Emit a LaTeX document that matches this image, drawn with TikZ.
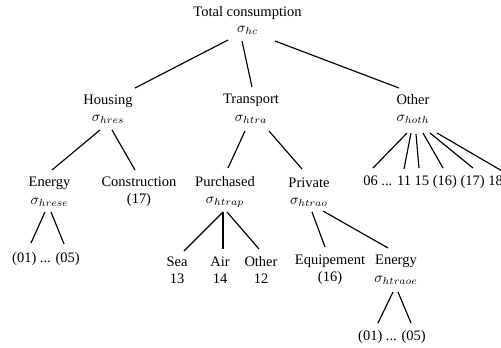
\documentclass[tikz,border=0pt]{standalone}
\usepackage{fontspec}
\setmainfont{Liberation Serif}
\begin{document}
\begin{tikzpicture}[x=0.69pt,y=-0.69pt,
  lbl/.style={align=center,inner sep=0pt,font=\fontsize{10}{12}\selectfont},
  edge/.style={line width=0.8pt}]
\useasboundingbox (0,0) rectangle (501,347);
% nodes
\node[lbl,font=\fontsize{10}{10.5}\selectfont] (tc) at (247.5,20.5) {Total consumption\\$\sigma_{hc}$};
\node[lbl] (ho) at (108,109) {Housing\\$\sigma_{hres}$};
\node[lbl] (tr) at (251,109) {Transport\\$\sigma_{htra}$};
\node[lbl] (ot) at (413,109) {Other\\$\sigma_{hoth}$};
\node[lbl] (en1) at (49.5,192) {Energy\\$\sigma_{hrese}$};
\node[lbl] (co) at (139,192) {Construction\\(17)};
\node[lbl] (pu) at (225,192) {Purchased\\$\sigma_{htrap}$};
\node[lbl] (pr) at (309,192) {Private\\$\sigma_{htrao}$};
\node[lbl,anchor=base west] (kd) at (363,185.5) {06 ... 11 15 (16) (17) 18};
\node[lbl] (l1) at (46,259) {(01) ... (05)};
\node[lbl] (sea) at (177,270) {Sea\\13};
\node[lbl] (air) at (220,270) {Air\\14};
\node[lbl] (oth2) at (261,270) {Other\\12};
\node[lbl] (eq) at (330,270) {Equipement\\(16)};
\node[lbl] (en2) at (396,270) {Energy\\$\sigma_{htraoe}$};
\node[lbl] (l2) at (392,337) {(01) ... (05)};
% edges
\draw[edge] ([shift={(-19.5,19.5)}]tc.center) -- ([shift={(27,-21)}]ho.center);
\draw[edge] ([shift={(-5.5,20.5)}]tc.center) -- ([shift={(1,-22)}]tr.center);
\draw[edge] ([shift={(27.5,20.5)}]tc.center) -- ([shift={(-14,-21)}]ot.center);
\draw[edge] ([shift={(-8,21)}]ho.center) -- ([shift={(2.5,-22)}]en1.center);
\draw[edge] ([shift={(4,21)}]ho.center) -- ([shift={(-4,-22)}]co.center);
\draw[edge] ([shift={(-6,22)}]tr.center) -- ([shift={(3,-24)}]pu.center);
\draw[edge] ([shift={(18,22)}]tr.center) -- ([shift={(-7,-23)}]pr.center);
\draw[edge] ([shift={(-6,24)}]ot.center) -- ([shift={(10,-17.5)}]kd.base west);
\draw[edge] ([shift={(-2,24)}]ot.center) -- ([shift={(41,-16.5)}]kd.base west);
\draw[edge] ([shift={(3,25)}]ot.center) -- ([shift={(56,-17.5)}]kd.base west);
\draw[edge] ([shift={(10,24)}]ot.center) -- ([shift={(80,-17.5)}]kd.base west);
\draw[edge] ([shift={(17,24)}]ot.center) -- ([shift={(110,-17.5)}]kd.base west);
\draw[edge] ([shift={(24,24)}]ot.center) -- ([shift={(140,-14)}]kd.base west);
\draw[edge] ([shift={(-4.5,20)}]en1.center) -- ([shift={(-15,-16)}]l1.center);
\draw[edge] ([shift={(1.5,20)}]en1.center) -- ([shift={(18,-15)}]l1.center);
\draw[edge] ([shift={(-2,20)}]pu.center) -- ([shift={(7,-19)}]sea.center);
\draw[edge] ([shift={(-2,20)}]pu.center) -- ([shift={(3,-21)}]air.center);
\draw[edge] ([shift={(2,20)}]pu.center) -- ([shift={(-2,-21)}]oth2.center);
\draw[edge] ([shift={(3,20)}]pr.center) -- ([shift={(-5,-23)}]eq.center);
\draw[edge] ([shift={(14,19)}]pr.center) -- ([shift={(-8,-22)}]en2.center);
\draw[edge] ([shift={(-3,22)}]en2.center) -- ([shift={(-14,-14)}]l2.center);
\draw[edge] ([shift={(2,22)}]en2.center) -- ([shift={(19,-14)}]l2.center);
\end{tikzpicture}
\end{document}
